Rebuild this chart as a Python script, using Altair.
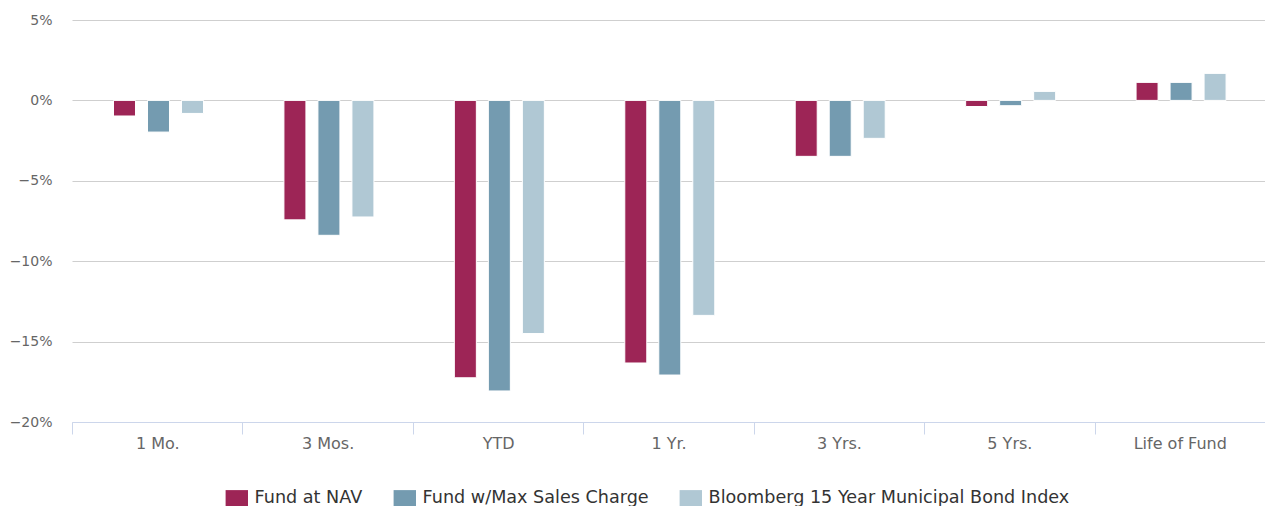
import altair as alt
import pandas as pd

categories = ["1 Mo.", "3 Mos.", "YTD", "1 Yr.", "3 Yrs.", "5 Yrs.", "Life of Fund"]
series_names = ["Fund at NAV", "Fund w/Max Sales Charge", "Bloomberg 15 Year Municipal Bond Index"]
fund_nav = [-0.97, -7.43, -17.25, -16.33, -3.48, -0.38, 1.12]
fund_max = [-1.97, -8.39, -18.07, -17.08, -3.48, -0.33, 1.12]
index_vals = [-0.81, -7.25, -14.50, -13.37, -2.36, 0.56, 1.68]
y_ticks = [-20, -15, -10, -5, 0, 5]
colors = ["#9d2556", "#749bb0", "#b0c8d4"]

rows = []
for name, vals in zip(series_names, [fund_nav, fund_max, index_vals]):
    for c, v in zip(categories, vals):
        rows.append({"period": c, "series": name, "value": v})
df = pd.DataFrame(rows)

FONT = "DejaVu Sans"

chart = alt.Chart(df).mark_bar(stroke="white", strokeWidth=1).encode(
    x=alt.X(
        "period:N",
        sort=categories,
        scale=alt.Scale(paddingInner=0, paddingOuter=0),
        axis=alt.Axis(
            title=None,
            labelAngle=0,
            labelFont=FONT,
            labelFontSize=16,
            labelColor="#666666",
            labelPadding=1,
            tickBand="extent",
            tickSize=12,
            tickColor="#ccd6eb",
            domainColor="#ccd6eb",
            grid=False,
        ),
    ),
    xOffset=alt.XOffset(
        "series:N",
        sort=series_names,
        scale=alt.Scale(paddingInner=0.353, paddingOuter=0, range=[41.5, 131.5]),
    ),
    y=alt.Y(
        "value:Q",
        scale=alt.Scale(domain=[-20, 5], nice=False),
        axis=alt.Axis(
            title=None,
            values=y_ticks,
            labelExpr="replace(datum.value + '%', '-', '\u2212')",
            labelFont=FONT,
            labelFontSize=14,
            labelColor="#666666",
            labelPadding=20,
            ticks=False,
            domain=False,
            grid=True,
            gridColor="#cfcfcf",
            gridWidth=1,
        ),
    ),
    color=alt.Color(
        "series:N",
        sort=series_names,
        scale=alt.Scale(domain=series_names, range=colors),
        legend=alt.Legend(
            title=None,
            orient="none",
            direction="horizontal",
            legendX=156,
            legendY=469,
            symbolType="M-1.4,-1H1.4V1H-1.4Z",
            symbolSize=256,
            symbolStrokeWidth=0,
            labelFont=FONT,
            labelFontSize=17.6,
            labelColor="#333333",
            labelOffset=9,
            labelLimit=0,
            columnPadding=30,
        ),
    ),
).properties(
    width=1193,
    height=402,
    autosize="none",
    padding={"left": 64, "top": 12, "right": 0, "bottom": 84},
).configure_view(stroke=None)

chart.save("out.html", embed_options={"renderer": "svg", "actions": False})
